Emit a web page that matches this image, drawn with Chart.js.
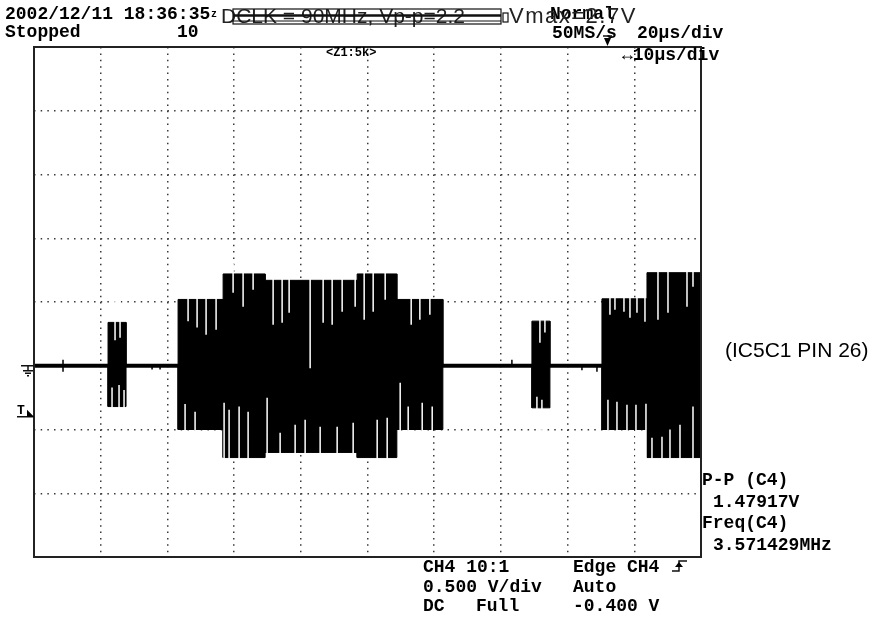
<!DOCTYPE html>
<html>
<head>
<meta charset="utf-8">
<title>IC5C1 PIN 26</title>
<script src="https://cdn.jsdelivr.net/npm/chart.js@4.4.1/dist/chart.umd.min.js"></script>
<style>
  body { margin: 0; background: #fff; }
  #wrap { width: 887px; height: 622px; }
</style>
</head>
<body>
<div id="wrap"><canvas id="scope" width="887" height="622"></canvas></div>
<script>
// time axis in us (20 us/div, 10 div), voltage in V (0.5 V/div, 8 div, ground one div below centre)
var timeTicks = [0, 20, 40, 60, 80, 100, 120, 140, 160, 180, 200]
var voltTicks = [-1.5, -1, -0.5, 0, 0.5, 1, 1.5, 2, 2.5]

// bursts of the DCLK signal: start, end, upper and lower envelope
var burstStart  = [22.2, 43.2, 56.7, 69.3, 83.0, 96.9, 108.8, 149.3, 170.3, 183.8]
var burstEnd    = [27.6, 56.7, 69.3, 82.8, 96.9, 108.8, 122.6, 154.7, 183.8, 200]
var burstTop    = [0.34, 0.52, 0.72, 0.67, 0.67, 0.72, 0.52, 0.35, 0.525, 0.73]
var burstBottom = [-0.32, -0.50, -0.72, -0.68, -0.68, -0.72, -0.50, -0.33, -0.50, -0.72]

// white gaps between the sampled cycles (top side / bottom side)
var gapTopT  = [24.3, 25.8, 46.2, 48.9, 51.6, 54.6, 59.7, 62.7, 65.7, 71.7, 74.4, 76.5, 82.8, 86.7, 89.4, 92.4, 96.3, 99.0, 101.7, 105.3, 113.1, 115.7, 118.7, 151.7, 153.2, 172.7, 174.2, 176.9, 178.7, 180.8, 183.2, 187.1, 190.1, 195.8, 197.6]
var gapTopV  = [0.2, 0.22, 0.35, 0.30, 0.243, 0.282, 0.573, 0.463, 0.596, 0.322, 0.337, 0.416, -0.02, 0.337, 0.322, 0.424, 0.463, 0.361, 0.424, 0.518, 0.322, 0.361, 0.40, 0.18, 0.26, 0.40, 0.44, 0.424, 0.376, 0.416, 0.345, 0.361, 0.416, 0.463, 0.62]
var gapBotT  = [23.4, 25.5, 27.0, 45.3, 48.3, 57.0, 58.5, 61.5, 64.2, 69.9, 73.8, 78.3, 81.3, 85.8, 90.9, 95.7, 102.9, 105.9, 109.8, 112.2, 116.4, 119.4, 150.8, 152.3, 172.1, 174.8, 177.8, 180.5, 183.5, 185.3, 188.3, 190.7, 193.7, 197.6]
var gapBotV  = [-0.17, -0.15, -0.19, -0.30, -0.36, -0.29, -0.345, -0.32, -0.36, -0.25, -0.525, -0.463, -0.424, -0.478, -0.478, -0.447, -0.424, -0.408, -0.133, -0.32, -0.29, -0.32, -0.243, -0.267, -0.267, -0.282, -0.306, -0.306, -0.298, -0.565, -0.557, -0.50, -0.463, -0.32]

// small glitches on the idle line
var blipT   = [8.7, 35.4, 37.8, 143.3, 164.3, 168.8]
var blipTop = [0.047, 0, 0, 0.047, 0, 0]
var blipBot = [-0.047, -0.03, -0.03, 0, -0.035, -0.047]

var upper = [{ x: 0, y: 0 }]
var lower = [{ x: 0, y: 0 }]
burstStart.forEach((s, i) => {
    upper.push({ x: s, y: 0 }, { x: s, y: burstTop[i] }, { x: burstEnd[i], y: burstTop[i] }, { x: burstEnd[i], y: 0 })
    lower.push({ x: s, y: 0 }, { x: s, y: burstBottom[i] }, { x: burstEnd[i], y: burstBottom[i] }, { x: burstEnd[i], y: 0 })
})
upper.push({ x: 200, y: 0 })
lower.push({ x: 200, y: 0 })

var gaps = []
gapTopT.forEach((t, i) => { gaps.push({ x: t, y: 0.8 }, { x: t, y: gapTopV[i] }, { x: t, y: null }) })
gapBotT.forEach((t, i) => { gaps.push({ x: t, y: -0.8 }, { x: t, y: gapBotV[i] }, { x: t, y: null }) })

var blips = []
blipT.forEach((t, i) => { blips.push({ x: t, y: blipTop[i] }, { x: t, y: blipBot[i] }, { x: t, y: null }) })

var MONO = 'bold 18px "Liberation Mono", monospace'
var SANS = '21px "Liberation Sans", Arial, sans-serif'

function txt(ctx, s, x, y, font) {
    ctx.font = font || MONO
    ctx.fillText(s, x, y)
}

var scopeScreen = {
    id: 'scopeScreen',
    afterDraw: function (chart) {
        var ctx = chart.ctx, a = chart.chartArea
        var y0 = chart.scales.y.getPixelForValue(0)
        var yT = chart.scales.y.getPixelForValue(-0.4)
        ctx.save()
        ctx.strokeStyle = '#222'
        ctx.lineWidth = 2
        ctx.strokeRect(a.left, a.top, a.right - a.left, a.bottom - a.top)
        ctx.fillStyle = '#000'
        ctx.textBaseline = 'alphabetic'

        // header
        txt(ctx, '2002/12/11 18:36:35', 5, 19)
        txt(ctx, 'z', 211, 17, 'bold 10px "Liberation Mono"')
        txt(ctx, 'Stopped', 5, 37)
        txt(ctx, '10', 177, 37)
        txt(ctx, 'Normal', 550, 19)
        txt(ctx, '50MS/s', 552, 38)
        txt(ctx, '20µs/div', 637, 38)
        txt(ctx, '↔10µs/div', 622, 60)
        txt(ctx, '<Z1:5k>', 326, 56, 'bold 12px "Liberation Mono"')

        // pasted annotation
        ctx.fillStyle = '#222'
        txt(ctx, 'DCLK = 90MHz, Vp-p=2.2', 221, 23, SANS)
        ctx.letterSpacing = '1.5px'
        txt(ctx, 'Vmax=2.7V', 509, 23, '22px "Liberation Sans", Arial, sans-serif')
        ctx.letterSpacing = '0px'
        ctx.strokeStyle = '#111'
        ctx.lineWidth = 1.2
        ctx.strokeRect(233, 9, 268, 15)
        ctx.strokeRect(503, 13, 5, 9)
        ctx.lineWidth = 2.5
        ctx.beginPath(); ctx.moveTo(233, 15.5); ctx.lineTo(501, 15.5); ctx.stroke()
        ctx.lineWidth = 1
        ctx.beginPath(); ctx.moveTo(233, 21); ctx.lineTo(501, 21); ctx.stroke()

        // trigger position marker
        ctx.fillStyle = '#000'
        ctx.lineWidth = 1.5
        ctx.beginPath(); ctx.moveTo(603, 36); ctx.lineTo(612, 36); ctx.stroke()
        ctx.beginPath(); ctx.moveTo(604, 38); ctx.lineTo(611, 38); ctx.lineTo(607.5, 46); ctx.closePath(); ctx.fill()

        // ground marker and trigger level
        ctx.lineWidth = 1.5
        ctx.beginPath(); ctx.moveTo(21, y0); ctx.lineTo(a.left, y0); ctx.stroke()
        ctx.beginPath(); ctx.moveTo(28, y0); ctx.lineTo(28, y0 + 5); ctx.stroke()
        ctx.beginPath(); ctx.moveTo(23, y0 + 5); ctx.lineTo(33, y0 + 5)
        ctx.moveTo(25, y0 + 7.5); ctx.lineTo(31, y0 + 7.5)
        ctx.moveTo(27, y0 + 10); ctx.lineTo(29, y0 + 10); ctx.stroke()
        txt(ctx, 'T', 17, yT - 3, 'bold 13px "Liberation Mono"')
        ctx.beginPath(); ctx.moveTo(17, yT); ctx.lineTo(a.left, yT); ctx.stroke()
        ctx.beginPath(); ctx.moveTo(27, yT - 7); ctx.lineTo(a.left, yT); ctx.lineTo(27, yT); ctx.closePath(); ctx.fill()

        // measurements
        txt(ctx, 'P-P (C4)', 702, 485)
        txt(ctx, '1.47917V', 713, 507)
        txt(ctx, 'Freq(C4)', 702, 528)
        txt(ctx, '3.571429MHz', 713, 550)

        // channel / trigger setup
        txt(ctx, 'CH4 10:1', 423, 572)
        txt(ctx, '0.500 V/div', 423, 592)
        txt(ctx, 'DC', 423, 611)
        txt(ctx, 'Full', 476, 611)
        txt(ctx, 'Edge CH4', 573, 572)
        txt(ctx, 'Auto', 573, 592)
        txt(ctx, '-0.400 V', 573, 611)
        ctx.lineWidth = 1.5
        ctx.beginPath(); ctx.moveTo(672, 571); ctx.lineTo(679, 571); ctx.lineTo(679, 561); ctx.lineTo(687, 561); ctx.stroke()
        ctx.beginPath(); ctx.moveTo(675, 567); ctx.lineTo(679, 562); ctx.lineTo(683, 567); ctx.closePath(); ctx.fill()

        // probe point label
        txt(ctx, '(IC5C1 PIN 26)', 725, 357, '21px "Liberation Sans", Arial, sans-serif')
        ctx.restore()
    }
}

var edgeColor = (v, lo, hi) => (v === lo || v === hi) ? 'rgba(0,0,0,0)' : '#3a3a3a'

new Chart(document.getElementById('scope'), {
    type: 'line',
    data: {
        datasets: [
            { data: gaps, borderColor: '#fff', borderWidth: 1.5, pointRadius: 0, spanGaps: false, fill: false },
            { data: upper, borderColor: '#000', borderWidth: 1, pointRadius: 0, fill: '+1', backgroundColor: '#000' },
            { data: lower, borderColor: '#000', borderWidth: 1, pointRadius: 0, fill: false },
            { data: [{ x: 0, y: 0 }, { x: 200, y: 0 }], borderColor: '#000', borderWidth: 4, pointRadius: 0, fill: false },
            { data: blips, borderColor: '#000', borderWidth: 1.5, pointRadius: 0, spanGaps: false, fill: false }
        ]
    },
    options: {
        responsive: false,
        animation: false,
        layout: { padding: { left: 34, right: 186, top: 47, bottom: 65 } },
        plugins: { legend: { display: false }, tooltip: { enabled: false } },
        elements: { line: { tension: 0 } },
        scales: {
            x: {
                type: 'linear', min: 0, max: 200,
                afterBuildTicks: s => { s.ticks = timeTicks.map(v => ({ value: v })) },
                ticks: { display: false },
                grid: { drawTicks: false, lineWidth: 1.5, color: c => edgeColor(c.tick && c.tick.value, 0, 200) },
                border: { display: false, dash: [1.5, 4.875] }
            },
            y: {
                type: 'linear', min: -1.5, max: 2.5,
                afterBuildTicks: s => { s.ticks = voltTicks.map(v => ({ value: v })) },
                ticks: { display: false },
                grid: { drawTicks: false, lineWidth: 1.5, color: c => edgeColor(c.tick && c.tick.value, -1.5, 2.5) },
                border: { display: false, dash: [1.5, 5.17] }
            }
        }
    },
    plugins: [scopeScreen]
})
</script>
</body>
</html>
